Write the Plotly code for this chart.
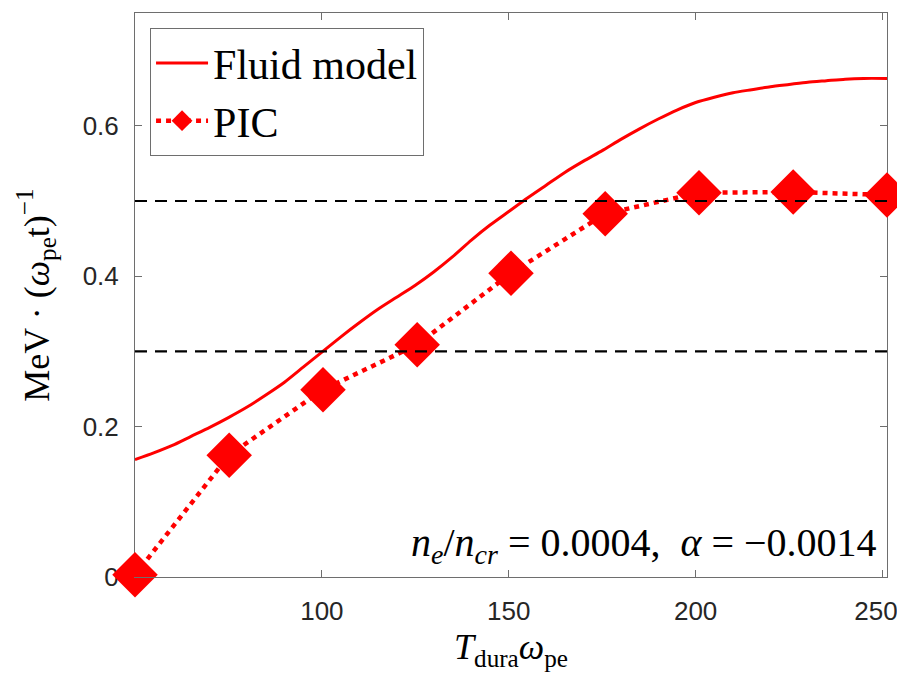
import plotly.graph_objects as go

# ---- data ----
fluid_x = [50.0, 55, 60, 65, 70, 75, 80, 85, 90, 95, 100, 105, 110, 115, 120,
           125, 130, 135, 140, 145, 150, 155, 160, 165, 170, 175, 180, 185,
           190, 195, 200, 205, 210, 215, 220, 225, 230, 235, 240, 245, 251.2]
fluid_y = [0.156, 0.165, 0.175, 0.187, 0.199, 0.212, 0.226, 0.242, 0.259, 0.279,
           0.299, 0.319, 0.338, 0.356, 0.372, 0.388, 0.406, 0.426, 0.448, 0.468,
           0.486, 0.504, 0.521, 0.538, 0.553, 0.567, 0.582, 0.596, 0.609, 0.621,
           0.631, 0.638, 0.644, 0.648, 0.652, 0.655, 0.658, 0.660, 0.662, 0.663,
           0.663]

pic_x = [50.0, 75.2, 100.3, 125.5, 150.6, 175.8, 200.9, 226.1, 251.2]
pic_y = [0.003, 0.162, 0.249, 0.309, 0.404, 0.483, 0.511, 0.512, 0.508]

thresholds = [0.3, 0.5]

x_ticks = [100, 150, 200, 250]
x_tick_labels = ["100", "150", "200", "250\u2002"]  # last label nudged left, as in the original
y_ticks = [0, 0.2, 0.4, 0.6]
y_tick_labels = ["0", "0.2", "0.4", "0.6"]
x_range = [50.0, 251.2]
y_range = [0, 0.75]

RED = "#ff0000"
SERIF = "Liberation Serif"
SANS = "Liberation Sans"
AXC = "#6e6e6e"

fig = go.Figure()

fig.add_trace(go.Scatter(
    x=fluid_x, y=fluid_y, mode="lines", name="Fluid model",
    line=dict(color=RED, width=3, shape="spline", smoothing=0.6),
))
fig.add_trace(go.Scatter(
    x=pic_x, y=pic_y, mode="lines+markers", name="PIC",
    line=dict(color=RED, width=4.5, dash="5px,5px"),
    marker=dict(symbol="diamond", size=35, color=RED),
    cliponaxis=False,
))

for t in thresholds:
    fig.add_shape(type="line", xref="x", yref="y",
                  x0=x_range[0], x1=x_range[1], y0=t, y1=t,
                  line=dict(color="black", width=2.2, dash="12px,8px"),
                  layer="above")

fig.add_annotation(
    xref="paper", yref="paper", x=0.99, y=0.008,
    xanchor="right", yanchor="bottom", showarrow=False,
    text="<i>n</i><sub><i>e</i></sub>/<i>n</i><sub><i>cr</i></sub> = 0.0004,  <i>α</i> = −0.0014",
    font=dict(family=SERIF, size=40, color="black"),
)

# the page body has an 8px margin: size and margins compensate for it
fig.update_layout(
    width=897, height=664,
    margin=dict(l=127, r=18, t=5, b=95),
    paper_bgcolor="white", plot_bgcolor="white",
    showlegend=True,
    legend=dict(
        x=0.02, y=0.973, xanchor="left", yanchor="top",
        bgcolor="white", bordercolor=AXC, borderwidth=1,
        font=dict(family=SERIF, size=42, color="black"),
        tracegroupgap=0, itemwidth=52,
    ),
    xaxis=dict(
        range=x_range, tickvals=x_ticks, ticktext=x_tick_labels, automargin=False,
        ticklabeloverflow="allow",
        showline=True, mirror="ticks", linecolor=AXC, linewidth=1,
        ticks="inside", ticklen=7, tickcolor=AXC,
        showgrid=False, zeroline=False,
        tickfont=dict(family=SANS, size=26, color="#262626"),
        ticklabelstandoff=11,
        title=dict(text="<i>T</i><sub>dura</sub><i>ω</i><sub>pe</sub>",
                   font=dict(family=SERIF, size=36, color="black"), standoff=13),
    ),
    yaxis=dict(
        range=y_range, tickvals=y_ticks, ticktext=y_tick_labels, automargin=False,
        showline=True, mirror="ticks", linecolor=AXC, linewidth=1,
        ticks="inside", ticklen=7, tickcolor=AXC,
        showgrid=False, zeroline=False, layer="below traces",
        tickfont=dict(family=SANS, size=26, color="#262626"),
        ticklabelstandoff=10,
        title=dict(text="MeV · (<i>ω</i><sub>pe</sub>t)<sup>−1</sup>",
                   font=dict(family=SERIF, size=36, color="black"), standoff=22),
    ),
)

fig.write_html("out.html")
